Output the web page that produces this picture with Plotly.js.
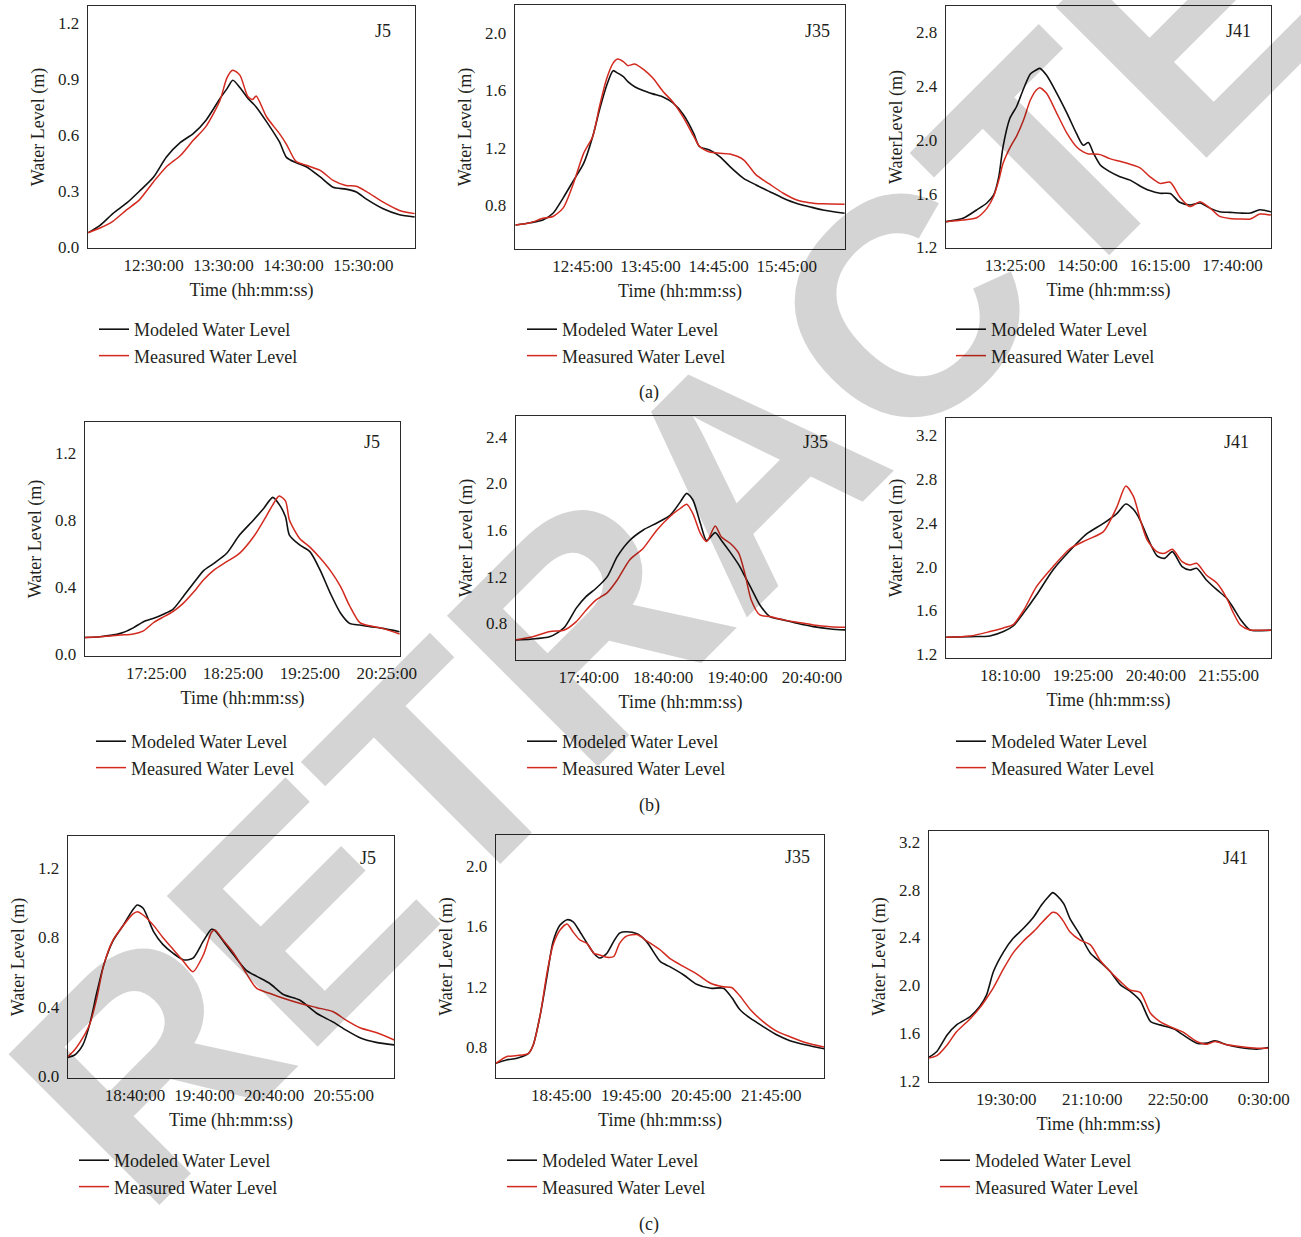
<!DOCTYPE html>
<html><head><meta charset="utf-8">
<script src="https://cdn.plot.ly/plotly-3.0.1.min.js"></script>
<style>html,body{margin:0;padding:0;background:#fff}#chart{width:1301px;height:1237px}</style>
</head><body><div id="chart"></div>
<script>
// ---------- DATA (time in minutes after midnight, water level in m) ----------
// Event (a)
const a_J5_time = [694,704,715,727,738,750,761,773,784,795,807,813,818,824,831,835,838,847,858,864,872,881,893,904,915,924,933,947,961,974];
const a_J5_modeled = [0.077,0.116,0.179,0.236,0.30,0.375,0.482,0.56,0.607,0.679,0.795,0.848,0.893,0.854,0.795,0.77,0.75,0.67,0.5625,0.48,0.452,0.43,0.375,0.32,0.31,0.295,0.255,0.205,0.173,0.161];
const a_J5_measured = [0.077,0.102,0.138,0.2,0.254,0.35,0.43,0.49,0.571,0.646,0.786,0.907,0.946,0.92,0.804,0.79,0.809,0.696,0.607,0.55,0.46,0.4375,0.41,0.357,0.33,0.325,0.295,0.24,0.196,0.179];
const a_J5_tickMinutes = [750,810,870,930];
const a_J5_tickLabels = ['12:30:00','13:30:00','14:30:00','15:30:00'];
const a_J5_levelTicks = [0,0.3,0.6,0.9,1.2];

const a_J35_time = [706,719,730,739,748,757,766,774,780,786,792,796,801,805,811,819,827,836,845,854,863,868,877,886,895,907,918,930,942,954,965,977,996];
const a_J35_modeled = [0.66,0.676,0.695,0.742,0.85,0.97,1.09,1.278,1.464,1.627,1.737,1.72,1.695,1.66,1.625,1.597,1.575,1.553,1.51,1.429,1.30,1.208,1.184,1.138,1.068,0.986,0.94,0.893,0.847,0.81,0.788,0.765,0.742];
const a_J35_measured = [0.66,0.676,0.707,0.72,0.78,0.95,1.16,1.278,1.487,1.674,1.79,1.818,1.80,1.772,1.783,1.744,1.685,1.592,1.515,1.41,1.28,1.21,1.17,1.161,1.155,1.115,1.01,0.945,0.882,0.835,0.816,0.808,0.805];
const a_J35_tickMinutes = [765,825,885,945];
const a_J35_tickLabels = ['12:45:00','13:45:00','14:45:00','15:45:00'];
const a_J35_levelTicks = [0.8,1.2,1.6,2.0];

const a_J41_time = [724,744,760,772,780,786,791,799,807,815,823,830,834,842,854,866,877,885,891,897,905,916,928,940,952,963,975,987,998,1010,1022,1034,1045,1057,1069,1081,1092,1105];
const a_J41_modeled = [1.391,1.416,1.478,1.53,1.59,1.726,1.95,2.16,2.25,2.38,2.49,2.52,2.532,2.48,2.346,2.197,2.048,1.96,1.98,1.90,1.813,1.763,1.726,1.70,1.655,1.622,1.602,1.60,1.535,1.515,1.53,1.49,1.465,1.46,1.455,1.455,1.48,1.465];
const a_J41_measured = [1.391,1.403,1.42,1.49,1.58,1.70,1.825,1.94,2.03,2.148,2.296,2.371,2.388,2.346,2.197,2.048,1.949,1.91,1.895,1.895,1.89,1.86,1.84,1.818,1.79,1.726,1.676,1.684,1.577,1.503,1.54,1.49,1.43,1.415,1.411,1.411,1.448,1.44];
const a_J41_tickMinutes = [805,890,975,1060];
const a_J41_tickLabels = ['13:25:00','14:50:00','16:15:00','17:40:00'];
const a_J41_levelTicks = [1.2,1.6,2.0,2.4,2.8];

// Event (b)
const b_J5_time = [989,1001,1017,1027,1035,1043,1051,1058,1066,1074,1082,1090,1100,1110,1121,1129,1136,1141,1146,1149,1157,1165,1173,1181,1189,1196,1204,1212,1222,1235];
const b_J5_modeled = [0.1,0.105,0.125,0.158,0.195,0.215,0.241,0.269,0.344,0.424,0.5,0.543,0.603,0.712,0.802,0.872,0.937,0.895,0.82,0.712,0.653,0.613,0.503,0.364,0.245,0.185,0.175,0.165,0.155,0.135];
const b_J5_measured = [0.1,0.105,0.115,0.122,0.14,0.19,0.225,0.255,0.304,0.37,0.445,0.503,0.553,0.603,0.702,0.80,0.892,0.945,0.915,0.802,0.692,0.64,0.575,0.50,0.404,0.29,0.189,0.17,0.155,0.121];
const b_J5_tickMinutes = [1045,1105,1165,1225];
const b_J5_tickLabels = ['17:25:00','18:25:00','19:25:00','20:25:00'];
const b_J5_levelTicks = [0,0.4,0.8,1.2];

const b_J35_time = [1001,1013,1029,1040,1050,1058,1066,1075,1083,1093,1104,1115,1126,1134,1139,1144,1150,1155,1162,1167,1174,1181,1186,1191,1198,1206,1217,1228,1241,1255,1267];
const b_J35_modeled = [0.657,0.663,0.686,0.76,0.93,1.03,1.1,1.2,1.371,1.51,1.6,1.66,1.73,1.843,1.914,1.857,1.657,1.509,1.577,1.51,1.41,1.30,1.20,1.10,0.957,0.857,0.829,0.80,0.771,0.751,0.743];
const b_J35_measured = [0.657,0.68,0.729,0.74,0.814,0.914,1.0,1.063,1.171,1.343,1.443,1.6,1.72,1.786,1.82,1.74,1.57,1.50,1.634,1.54,1.486,1.40,1.22,1.0,0.871,0.857,0.829,0.809,0.786,0.771,0.766];
const b_J35_tickMinutes = [1060,1120,1180,1240];
const b_J35_tickLabels = ['17:40:00','18:40:00','19:40:00','20:40:00'];
const b_J35_levelTicks = [0.8,1.2,1.6,2.0,2.4];

const b_J41_time = [1024,1049,1069,1083,1093,1104,1117,1134,1152,1169,1186,1200,1209,1217,1224,1231,1241,1249,1257,1267,1275,1282,1292,1303,1313,1320,1327,1337,1347,1359];
const b_J41_modeled = [1.355,1.361,1.367,1.407,1.458,1.58,1.74,1.969,2.151,2.30,2.394,2.486,2.571,2.52,2.42,2.273,2.10,2.075,2.136,2.00,1.969,1.984,1.878,1.787,1.711,1.62,1.52,1.422,1.416,1.42];
const b_J41_measured = [1.355,1.367,1.407,1.44,1.47,1.604,1.817,1.999,2.167,2.243,2.319,2.547,2.735,2.638,2.425,2.243,2.136,2.121,2.157,2.045,2.015,2.03,1.923,1.847,1.711,1.574,1.467,1.422,1.42,1.42];
const b_J41_tickMinutes = [1090,1165,1240,1315];
const b_J41_tickLabels = ['18:10:00','19:25:00','20:40:00','21:55:00'];
const b_J41_levelTicks = [1.2,1.6,2.0,2.4,2.8,3.2];

// Event (c)
const c_J5_time = [1062,1068,1075,1081,1087,1093,1101,1110,1118,1122,1127,1136,1144,1153,1162,1170,1179,1186,1189,1196,1205,1216,1225,1236,1248,1262,1277,1291,1302,1314,1328,1344];
const c_J5_modeled = [0.106,0.12,0.178,0.30,0.48,0.64,0.78,0.872,0.959,0.988,0.969,0.834,0.76,0.708,0.67,0.68,0.78,0.847,0.84,0.78,0.70,0.61,0.575,0.535,0.47,0.438,0.36,0.31,0.264,0.22,0.193,0.178];
const c_J5_measured = [0.11,0.15,0.22,0.30,0.448,0.64,0.785,0.87,0.935,0.949,0.93,0.87,0.80,0.73,0.66,0.602,0.70,0.83,0.843,0.785,0.71,0.592,0.505,0.477,0.448,0.419,0.394,0.37,0.322,0.278,0.25,0.206];
const c_J5_tickMinutes = [1120,1180,1240,1300];
const c_J5_tickLabels = ['18:40:00','19:40:00','20:40:00','20:55:00'];
const c_J5_levelTicks = [0,0.4,0.8,1.2];

const c_J35_time = [1069,1078,1087,1097,1101,1107,1113,1118,1124,1130,1135,1141,1147,1153,1158,1164,1170,1175,1181,1190,1198,1210,1218,1230,1241,1253,1264,1271,1278,1287,1298,1310,1321,1335,1351];
const c_J35_modeled = [0.694,0.716,0.727,0.76,0.815,1.014,1.278,1.498,1.608,1.643,1.63,1.564,1.49,1.42,1.39,1.42,1.50,1.555,1.564,1.55,1.50,1.366,1.333,1.278,1.216,1.19,1.19,1.13,1.05,0.992,0.937,0.881,0.844,0.815,0.789];
const c_J35_measured = [0.694,0.738,0.745,0.76,0.815,1.014,1.30,1.476,1.575,1.615,1.564,1.509,1.487,1.421,1.41,1.395,1.40,1.487,1.535,1.545,1.505,1.443,1.388,1.333,1.285,1.223,1.20,1.195,1.14,1.05,0.97,0.905,0.87,0.83,0.80];
const c_J35_tickMinutes = [1125,1185,1245,1305];
const c_J35_tickLabels = ['18:45:00','19:45:00','20:45:00','21:45:00'];
const c_J35_levelTicks = [0.8,1.2,1.6,2.0];

const c_J41_time = [1080,1089,1101,1112,1128,1139,1147,1155,1167,1178,1190,1202,1211,1219,1224,1229,1237,1244,1256,1268,1279,1291,1303,1314,1326,1338,1349,1365,1376,1392,1404,1413,1427,1442,1462,1475];
const c_J41_modeled = [1.398,1.445,1.584,1.668,1.738,1.821,1.919,2.114,2.281,2.392,2.476,2.573,2.671,2.74,2.774,2.75,2.68,2.559,2.42,2.267,2.197,2.114,2.002,1.95,1.87,1.696,1.668,1.635,1.584,1.515,1.515,1.534,1.501,1.479,1.465,1.479];
const c_J41_measured = [1.39,1.41,1.50,1.61,1.72,1.81,1.891,1.98,2.14,2.27,2.37,2.45,2.52,2.58,2.61,2.60,2.53,2.448,2.378,2.337,2.211,2.114,2.03,1.96,1.94,1.765,1.696,1.64,1.607,1.529,1.506,1.529,1.501,1.487,1.473,1.473];
const c_J41_tickMinutes = [1170,1270,1370,1470];
const c_J41_tickLabels = ['19:30:00','21:10:00','22:50:00','0:30:00'];
const c_J41_levelTicks = [1.2,1.6,2.0,2.4,2.8,3.2];

const seriesNames = ['Modeled Water Level','Measured Water Level'];
const eventLabels = ['(a)','(b)','(c)'];

// ---------- LAYOUT ----------
const W = 1301, H = 1237;
const FONT = '"Liberation Serif", "Times New Roman", serif';
const INK = '#231f20';
const BLACK = '#111111', RED = '#d32a1f';

// box: [left, right, top, bottom] in px ; xr/yr axis ranges ; lab: [right px, centre y px] of station tag ; leg: [text-left px, first-row y px]
const panels = [
  {name:'J5',  t:a_J5_time,  m:a_J5_modeled,  s:a_J5_measured,  tv:a_J5_tickMinutes,  tt:a_J5_tickLabels,  yv:a_J5_levelTicks,  ytitle:'Water Level (m)',
   box:[88,415,6,248],  xr:[693.7,974.3],  yr:[-0.005,1.29], lab:[393,31],  leg:[134,331]},
  {name:'J35', t:a_J35_time, m:a_J35_modeled, s:a_J35_measured, tv:a_J35_tickMinutes, tt:a_J35_tickLabels, yv:a_J35_levelTicks, ytitle:'Water Level (m)',
   box:[515,845,5,249], xr:[705.5,996.4],  yr:[0.493,2.195], lab:[832,31],  leg:[562,331]},
  {name:'J41', t:a_J41_time, m:a_J41_modeled, s:a_J41_measured, tv:a_J41_tickMinutes, tt:a_J41_tickLabels, yv:a_J41_levelTicks, ytitle:'WaterLevel (m)',
   box:[946,1271,6,248], xr:[724.1,1105.1], yr:[1.195,2.996], lab:[1253,31], leg:[991,331]},
  {name:'J5',  t:b_J5_time,  m:b_J5_modeled,  s:b_J5_measured,  tv:b_J5_tickMinutes,  tt:b_J5_tickLabels,  yv:b_J5_levelTicks,  ytitle:'Water Level (m)',
   box:[85,400,422,656], xr:[989.3,1235.4], yr:[-0.01,1.387], lab:[382,442], leg:[131,743]},
  {name:'J35', t:b_J35_time, m:b_J35_modeled, s:b_J35_measured, tv:b_J35_tickMinutes, tt:b_J35_tickLabels, yv:b_J35_levelTicks, ytitle:'Water Level (m)',
   box:[516,845,416,660], xr:[1001.4,1266.6], yr:[0.485,2.577], lab:[830,442], leg:[562,743]},
  {name:'J41', t:b_J41_time, m:b_J41_modeled, s:b_J41_measured, tv:b_J41_tickMinutes, tt:b_J41_tickLabels, yv:b_J41_levelTicks, ytitle:'Water Level (m)',
   box:[946,1271,418,658], xr:[1023.8,1358.6], yr:[1.166,3.355], lab:[1251,442], leg:[991,743]},
  {name:'J5',  t:c_J5_time,  m:c_J5_modeled,  s:c_J5_measured,  tv:c_J5_tickMinutes,  tt:c_J5_tickLabels,  yv:c_J5_levelTicks,  ytitle:'Water Level (m)',
   box:[68,394,836,1078], xr:[1062.2,1343.4], yr:[-0.013,1.387], lab:[378,858], leg:[114,1162]},
  {name:'J35', t:c_J35_time, m:c_J35_modeled, s:c_J35_measured, tv:c_J35_tickMinutes, tt:c_J35_tickLabels, yv:c_J35_levelTicks, ytitle:'Water Level (m)',
   box:[496,824,835,1078], xr:[1069.1,1350.2], yr:[0.597,2.203], lab:[812,857], leg:[542,1162]},
  {name:'J41', t:c_J41_time, m:c_J41_modeled, s:c_J41_measured, tv:c_J41_tickMinutes, tt:c_J41_tickLabels, yv:c_J41_levelTicks, ytitle:'Water Level (m)',
   box:[929,1268,831,1082], xr:[1079.9,1474.9], yr:[1.19,3.29], lab:[1250,858], leg:[975,1162]}
];
const eventLabelPos = [[649,392],[649,805],[649,1224]];

const px = v => v / W;
const py = v => 1 - v / H;

const traces = [];
const layout = {
  width: W, height: H,
  margin: {l:0, r:0, t:0, b:0},
  paper_bgcolor: '#ffffff', plot_bgcolor: 'rgba(0,0,0,0)',
  font: {family: FONT, color: INK, size: 17},
  showlegend: true,
  annotations: [], hovermode: false
};

panels.forEach((p, i) => {
  const k = i === 0 ? '' : String(i + 1);
  const xa = 'x' + k, ya = 'y' + k, lg = 'legend' + k;
  traces.push({x: p.t, y: p.m, xaxis: xa, yaxis: ya, type: 'scatter', mode: 'lines', name: seriesNames[0], legend: lg,
               line: {color: BLACK, width: 1.6, shape: 'spline', smoothing: 0.7}});
  traces.push({x: p.t, y: p.s, xaxis: xa, yaxis: ya, type: 'scatter', mode: 'lines', name: seriesNames[1], legend: lg,
               line: {color: RED, width: 1.5, shape: 'spline', smoothing: 0.7}});
  const [l, r, t, b] = p.box;
  layout['xaxis' + k] = {
    domain: [px(l), px(r)], anchor: ya, range: p.xr,
    tickmode: 'array', tickvals: p.tv, ticktext: p.tt, ticks: '', ticklabelstandoff: 1,
    showgrid: false, zeroline: false, showline: true, mirror: true, linecolor: '#2b2b2b', linewidth: 1.4,
    tickfont: {family: FONT, size: 17, color: INK},
    title: {text: 'Time (hh:mm:ss)', font: {family: FONT, size: 18, color: INK}, standoff: 9}
  };
  layout['yaxis' + k] = {
    domain: [py(b), py(t)], anchor: xa, range: p.yr,
    tickmode: 'array', tickvals: p.yv, tickformat: '.1f', ticks: '', ticklabelstandoff: 4,
    showgrid: false, zeroline: false, showline: true, mirror: true, linecolor: '#2b2b2b', linewidth: 1.4,
    tickfont: {family: FONT, size: 17, color: INK},
    title: {text: p.ytitle, font: {family: FONT, size: 18, color: INK}, standoff: 8}
  };
  layout[lg] = {
    x: px(p.leg[0] - 40), y: py(p.leg[1] - 20), xanchor: 'left', yanchor: 'top',
    bgcolor: 'rgba(0,0,0,0)', borderwidth: 0, tracegroupgap: 0,
    font: {family: FONT, size: 18, color: INK}
  };
  layout.annotations.push({
    text: p.name, xref: 'paper', yref: 'paper', x: px(p.lab[0]), y: py(p.lab[1]),
    xanchor: 'right', yanchor: 'middle', showarrow: false, font: {family: FONT, size: 18, color: INK}
  });
});

eventLabels.forEach((txt, j) => {
  layout.annotations.push({
    text: txt, xref: 'paper', yref: 'paper', x: px(eventLabelPos[j][0]), y: py(eventLabelPos[j][1]),
    xanchor: 'center', yanchor: 'middle', showarrow: false, font: {family: FONT, size: 18, color: INK}
  });
});

// retraction watermark
layout.annotations.push({
  text: '<b>RETRACTED</b>', xref: 'paper', yref: 'paper', x: px(745), y: py(468),
  xanchor: 'center', yanchor: 'middle', showarrow: false, textangle: -45,
  font: {family: '"Liberation Sans", Arial, sans-serif', size: 310, color: 'rgba(0,0,0,0.17)'}
});

Plotly.newPlot('chart', traces, layout, {displayModeBar: false, staticPlot: true});
</script>
</body></html>
